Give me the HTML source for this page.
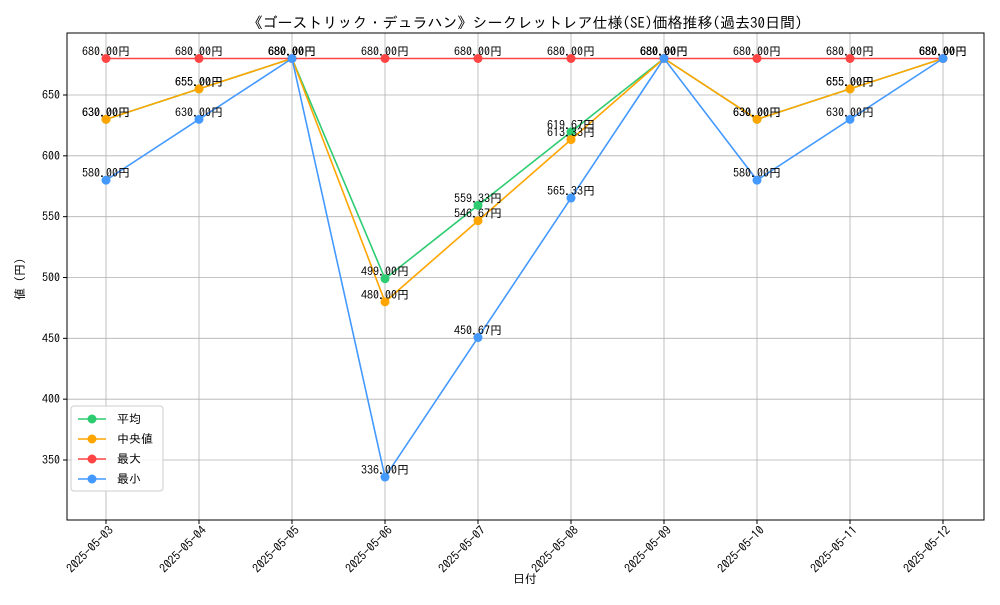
<!DOCTYPE html>
<html><head><meta charset="utf-8"><style>
body{margin:0;background:#fff}
svg{font-family:"IPAGothic","Noto Sans CJK JP",sans-serif}
</style></head><body>
<svg id="c" width="1000" height="600" xmlns="http://www.w3.org/2000/svg">
<rect width="1000" height="600" fill="#fff"/>
<text x="525" y="28" font-size="15" text-anchor="middle">《ゴーストリック・デュラハン》シークレットレア仕様(SE)価格推移(過去30日間)</text>
<text x="525" y="583" font-size="12" text-anchor="middle">日付</text>
<text transform="translate(24,276) rotate(-90)" font-size="12" text-anchor="middle">値（円）</text>
<g id="grid"></g><g id="series"></g><g id="labels"></g>
<rect x="67" y="33" width="917" height="487" fill="none" stroke="#000" stroke-width="1"/>
<g id="axes"></g><g id="legend"></g>
</svg>
<script>
const dates=["2025-05-03","2025-05-04","2025-05-05","2025-05-06","2025-05-07","2025-05-08","2025-05-09","2025-05-10","2025-05-11","2025-05-12"];
const avgVals=[630,655,680,499,559.33,619.67,680,630,655,680];
const medVals=[630,655,680,480,546.67,613.33,680,630,655,680];
const maxVals=[680,680,680,680,680,680,680,680,680,680];
const minVals=[580,630,680,336,450.67,565.33,680,580,630,680];
const yTicks=[350,400,450,500,550,600,650];
const seriesNames=["平均","中央値","最大","最小"];
const NS="http://www.w3.org/2000/svg";
const x=i=>106+i*93;
const y=v=>95-(v-650)*365/300;
function mk(t,a,p){const e=document.createElementNS(NS,t);for(const k in a)e.setAttribute(k,a[k]);p.appendChild(e);return e;}
const grid=document.getElementById('grid'),axes=document.getElementById('axes'),ser=document.getElementById('series'),lab=document.getElementById('labels'),leg=document.getElementById('legend');
dates.forEach((d,i)=>{
 const g=mk('line',{x1:x(i),x2:x(i),y1:33,y2:520,stroke:'#b0b0b0','stroke-width':0.8},grid);
 
 
 const tk=mk('line',{x1:x(i),x2:x(i),y1:520,y2:524,stroke:'#000'},axes);
 
 
 const t=mk('text',{transform:`translate(${x(i)+8},${531}) rotate(-45)`,'font-size':12,'text-anchor':'end'},axes);
 t.textContent=d;
 
 
});
yTicks.forEach(v=>{
 const g=mk('line',{x1:67,x2:984,y1:y(v),y2:y(v),stroke:'#b0b0b0','stroke-width':0.8},grid);
 
 
 const tk=mk('line',{x1:63,x2:67,y1:y(v),y2:y(v),stroke:'#000'},axes);
 
 
 const t=mk('text',{x:60,y:y(v)+4,'font-size':12,'text-anchor':'end'},axes);
 t.textContent=v;
 
 
});
const all=[avgVals,medVals,maxVals,minVals];
const colors=["#2ecc71","#ffa500","#ff4444","#4499ff"];
const keys=["avg","median","max","min"];
all.forEach((vals,s)=>{
 const pl=mk('polyline',{points:vals.map((v,i)=>x(i)+','+y(v)).join(' '),fill:'none',stroke:colors[s],'stroke-width':1.6},ser);
 
 
 vals.forEach((v,i)=>{
  const c=mk('circle',{cx:x(i),cy:y(v),r:4.5,fill:colors[s]},ser);
  
  
  const t=mk('text',{x:x(i),y:y(v)-3,'font-size':12,'text-anchor':'middle'},lab);
  t.textContent=v.toFixed(2)+'円';
  
  
 });
});
const box=mk('rect',{x:71,y:406,width:92,height:85,fill:'#fff','fill-opacity':0.85,stroke:'#ccc',rx:3},leg);


seriesNames.forEach((n,s)=>{
 const yy=419+s*20;
 const l=mk('line',{x1:78,x2:106,y1:yy,y2:yy,stroke:colors[s],'stroke-width':1.6},leg);
 
 
 const c=mk('circle',{cx:92,cy:yy,r:4.5,fill:colors[s]},leg);
 
 
 const t=mk('text',{x:117,y:yy+4,'font-size':12},leg);
 t.textContent=n;
 
 
});
</script>
</body></html>
